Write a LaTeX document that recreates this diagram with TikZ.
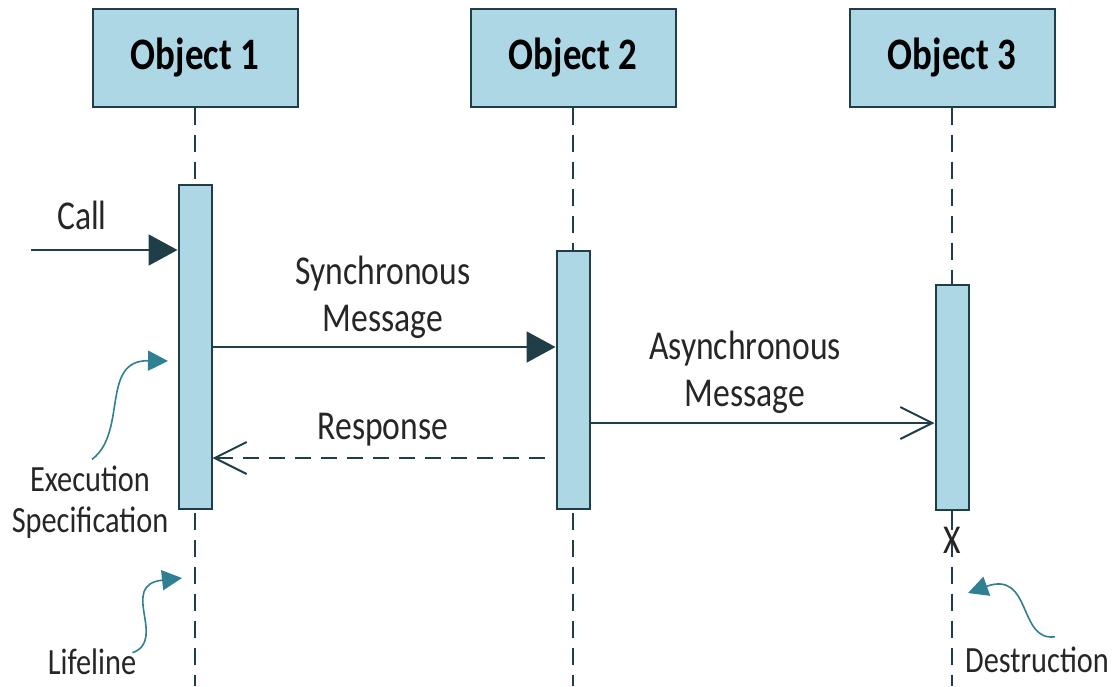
\documentclass[tikz,border=0pt]{standalone}
\usepackage{fontspec}
\setmainfont[FakeStretch=0.82]{Carlito}
\usepackage{tikz}
\usetikzlibrary{arrows.meta}
\definecolor{boxblue}{RGB}{173,215,228}
\definecolor{linedark}{RGB}{32,62,72}
\definecolor{noteteal}{RGB}{48,128,148}

\begin{document}
\begin{tikzpicture}[x=1pt, y=-1pt, line width=2pt,
  obj/.style={draw=linedark, fill=boxblue, minimum width=205, minimum height=98, font=\fontsize{45}{50}\selectfont\bfseries},
  act/.style={draw=linedark, fill=boxblue, minimum width=33, inner sep=0},
  life/.style={draw=linedark, dash pattern=on 17pt off 10pt},
  msg/.style={draw=linedark},
  lbl/.style={font=\fontsize{41}{47}\selectfont, align=center, text=black!85},
  note/.style={font=\fontsize{37}{41}\selectfont, align=center, text=black!85},
  curl/.style={draw=noteteal, line width=1.6pt, -{Triangle[length=20pt,width=20pt]}}]
\useasboundingbox (0,0) rectangle (1113,686);
\node[obj] (o1) at (195,57.5) {Object 1};
\node[obj] (o2) at (573,57.5) {Object 2};
\node[obj] (o3) at (952,57.5) {Object 3};
\coordinate (e1) at (195,686);
\coordinate (e2) at (573,686);
\coordinate (e3) at (952,686);
\draw[life] (o1) -- (e1);
\draw[life] (o2) -- (e2);
\draw[life] (o3) -- (e3);
\node[act, minimum height=324] (a1) at (195,347) {};
\node[act, minimum height=258] (a2) at (573,380) {};
\node[act, minimum height=225] (a3) at (952,397.5) {};
\draw[msg] (a3.south) -- (952,526);
\node[lbl, inner sep=0] (x3) at (952,540) {X};
\coordinate (ycall) at (31,250);
\coordinate (ysync) at (0,347);
\coordinate (yasync) at (0,423);
\coordinate (yresp) at (545,458);
\draw[msg, -{Triangle[length=29pt,width=31pt]}] (ycall) -- (ycall -| a1.west);
\draw[msg, -{Triangle[length=29pt,width=31pt]}] (a1.east |- ysync) -- (a2.west |- ysync);
\draw[msg, -{Straight Barb[length=32pt,width=32pt]}] (a2.east |- yasync) -- (a3.west |- yasync);
\draw[msg, dash pattern=on 16pt off 10pt, -{Straight Barb[length=32pt,width=32pt]}] (yresp) -- (a1.east |- yresp);
\node[lbl] (call) at (82,215) {Call};
\node[lbl] (sync) at (383,297) {Synchronous\\Message};
\node[lbl] (async) at (745,372) {Asynchronous\\Message};
\node[lbl] (resp) at (383,430) {Response};
\node[note] (exec) at (90,502) {Execution\\Specification};
\node[note] (lifel) at (92,662) {Lifeline};
\node[note] (destr) at (1037,660) {Destruction};
\coordinate (texec) at (168,361);
\coordinate (tlife) at (182,578);
\coordinate (tdestr) at (968,593);
\draw[curl] (exec.north) ++(2,-2) .. controls (128,432) and (100,360) .. (texec);
\draw[curl] (lifel.north east) ++(-8,8) .. controls (168,640) and (118,585) .. (tlife);
\draw[curl] (destr.north) ++(18,-6) .. controls (1018,642) and (1032,570) .. (tdestr);
\end{tikzpicture}
\end{document}
